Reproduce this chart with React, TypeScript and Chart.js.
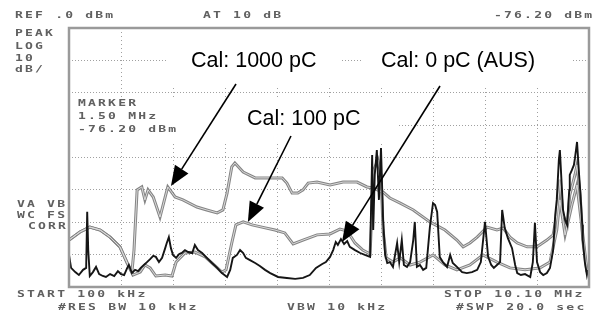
import React, { useEffect, useRef } from "react";
import { Chart, registerables } from "chart.js";
Chart.register(...registerables);

// Frequency (MHz) vs level (dBm)
const trace0pC: [number, number][] = [
  [0.10,-70.1],[0.14,-74.1],[0.22,-75.4],[0.29,-76.3],[0.37,-74.7],[0.43,-74.1],[0.45,-56.8],[0.47,-68.6],
  [0.50,-76.6],[0.56,-75.4],[0.62,-73.8],[0.68,-76.0],[0.75,-76.6],[0.81,-76.9],[0.89,-76.0],[0.97,-76.6],
  [1.04,-75.1],[1.10,-76.0],[1.16,-76.3],[1.22,-74.1],[1.25,-73.2],[1.31,-75.7],[1.37,-74.7],[1.43,-75.1],
  [1.48,-74.1],[1.54,-73.2],[1.60,-72.3],[1.66,-71.4],[1.72,-70.4],[1.77,-70.7],[1.83,-72.3],[1.89,-71.0],
  [1.95,-68.0],[1.98,-66.4],[2.02,-64.6],[2.06,-68.0],[2.10,-70.1],[2.16,-71.0],[2.22,-69.8],[2.27,-69.5],
  [2.33,-68.6],[2.39,-69.2],[2.47,-69.5],[2.52,-67.0],[2.58,-68.6],[2.66,-69.5],[2.75,-71.0],[2.85,-72.6],
  [2.95,-74.1],[3.04,-75.7],[3.14,-76.9],[3.20,-74.7],[3.25,-71.0],[3.33,-70.1],[3.39,-68.6],[3.45,-69.5],
  [3.50,-71.0],[3.58,-71.7],[3.68,-72.6],[3.77,-73.5],[3.87,-74.7],[3.97,-75.7],[4.12,-76.9],[4.29,-77.2],
  [4.45,-77.5],[4.60,-77.2],[4.73,-76.3],[4.85,-74.1],[4.97,-72.9],[5.04,-72.3],[5.12,-70.7],[5.18,-68.6],
  [5.23,-66.1],[5.27,-67.0],[5.33,-65.2],[5.39,-66.7],[5.45,-65.8],[5.50,-67.6],[5.60,-68.6],[5.70,-69.5],
  [5.79,-70.1],[5.89,-70.7],[5.93,-39.2],[5.95,-62.4],[5.98,-45.4],[6.02,-37.7],[6.06,-53.1],[6.10,-37.1],
  [6.14,-59.3],[6.18,-70.1],[6.22,-72.6],[6.27,-72.3],[6.33,-73.8],[6.41,-66.4],[6.45,-72.3],[6.50,-65.5],
  [6.54,-73.2],[6.60,-73.8],[6.66,-72.3],[6.72,-65.5],[6.75,-59.9],[6.79,-73.8],[6.85,-73.2],[6.91,-74.7],
  [6.97,-74.1],[7.04,-61.5],[7.10,-54.1],[7.14,-54.7],[7.18,-56.8],[7.23,-70.7],[7.29,-72.3],[7.37,-73.8],
  [7.43,-70.1],[7.48,-72.6],[7.56,-73.8],[7.66,-75.4],[7.75,-75.7],[7.85,-75.4],[7.95,-74.7],[8.02,-72.3],
  [8.10,-59.9],[8.16,-70.7],[8.22,-73.2],[8.27,-74.1],[8.33,-73.2],[8.39,-72.3],[8.43,-56.2],[8.48,-61.8],
  [8.54,-64.9],[8.62,-68.0],[8.68,-73.2],[8.72,-75.7],[8.79,-76.3],[8.87,-76.0],[8.97,-76.9],[9.02,-72.3],
  [9.06,-60.2],[9.10,-72.3],[9.16,-75.4],[9.22,-76.3],[9.29,-75.7],[9.35,-74.1],[9.41,-68.6],[9.45,-57.8],
  [9.48,-53.1],[9.52,-40.8],[9.54,-37.7],[9.58,-50.0],[9.60,-56.2],[9.64,-59.3],[9.68,-60.8],[9.72,-50.0],
  [9.73,-45.4],[9.77,-43.9],[9.81,-42.3],[9.83,-40.2],[9.87,-35.2],[9.91,-45.4],[9.93,-50.0],[9.97,-60.8],
  [9.98,-65.5],[10.02,-72.3],[10.06,-76.3],[10.08,-74.7],
];

const trace100pC: [number, number][] = [
  [0.10,-65.5],[0.31,-63.0],[0.50,-61.5],[0.70,-62.4],[0.89,-64.6],[1.08,-67.6],[1.22,-72.6],[1.33,-76.3],
  [1.47,-75.4],[1.56,-73.2],[1.66,-74.1],[1.77,-76.6],[1.95,-76.3],[2.08,-76.6],[2.16,-72.3],[2.33,-69.5],
  [2.52,-69.2],[2.72,-70.7],[2.91,-73.5],[3.04,-75.4],[3.12,-74.7],[3.23,-66.4],[3.31,-60.8],[3.45,-59.9],
  [3.62,-60.8],[3.81,-61.5],[4.06,-62.4],[4.25,-63.3],[4.41,-66.7],[4.60,-65.5],[4.87,-63.9],[5.12,-63.6],
  [5.31,-62.1],[5.45,-62.7],[5.60,-66.4],[5.75,-68.6],[5.89,-69.8],[5.96,-43.9],[6.04,-40.8],[6.10,-45.4],
  [6.14,-62.4],[6.20,-71.0],[6.33,-72.3],[6.47,-71.0],[6.66,-73.2],[6.85,-72.3],[7.10,-70.1],[7.33,-73.2],
  [7.56,-74.7],[7.81,-73.2],[8.06,-70.1],[8.33,-72.3],[8.58,-74.1],[8.87,-74.7],[9.16,-74.1],[9.35,-72.3],
  [9.48,-62.4],[9.54,-53.1],[9.64,-63.9],[9.77,-54.7],[9.87,-48.5],[9.97,-62.4],[10.06,-74.7],
];

const trace1000pC: [number, number][] = [
  [0.10,-65.5],[0.31,-63.0],[0.50,-61.5],[0.70,-62.4],[0.89,-64.6],[1.08,-67.6],[1.22,-72.6],[1.31,-75.4],
  [1.35,-68.6],[1.41,-50.0],[1.50,-49.1],[1.56,-53.1],[1.62,-50.0],[1.72,-52.2],[1.85,-58.4],[1.95,-52.2],
  [2.00,-49.1],[2.14,-52.2],[2.29,-53.1],[2.56,-55.3],[2.75,-56.2],[2.95,-57.1],[3.06,-56.2],[3.14,-51.0],
  [3.23,-42.9],[3.29,-41.7],[3.45,-44.5],[3.68,-46.3],[3.97,-46.3],[4.20,-46.3],[4.29,-47.9],[4.39,-51.0],
  [4.50,-51.0],[4.60,-50.0],[4.70,-47.9],[4.87,-47.6],[5.12,-48.5],[5.37,-47.6],[5.64,-47.6],[5.83,-49.1],
  [5.93,-49.4],[6.14,-50.7],[6.27,-52.5],[6.47,-54.1],[6.72,-56.2],[7.04,-59.9],[7.33,-62.4],[7.56,-65.5],
  [7.68,-67.6],[7.81,-66.4],[7.95,-64.6],[8.14,-61.5],[8.33,-62.4],[8.45,-61.8],[8.58,-64.6],[8.72,-66.4],
  [8.91,-67.6],[9.10,-67.6],[9.29,-65.5],[9.41,-63.9],[9.48,-57.8],[9.54,-46.9],[9.60,-57.8],[9.68,-60.8],
  [9.73,-51.6],[9.83,-45.4],[9.87,-42.3],[9.93,-51.6],[9.98,-65.5],[10.06,-75.4],
];

const freqGridMHz = [0.1, 1.1, 2.1, 3.1, 4.1, 5.1, 6.1, 7.1, 8.1, 9.1, 10.1];
const levelGridDbm = [0, -10, -20, -30, -40, -50, -60, -70, -80];

const calLabels = ["Cal: 1000 pC", "Cal: 0 pC (AUS)", "Cal: 100 pC"];
// arrow tips (MHz, dBm) on the traces
const arrowTipsMHz = [2.06, 3.54, 5.35];
const arrowTipsDbm = [-48.8, -59.9, -66.1];

const headerTexts = ["REF .0 dBm", "AT 10 dB", "-76.20 dBm"];
const modeTexts = ["PEAK", "LOG", "10", "dB/"];
const markerTexts = ["MARKER", "1.50 MHz", "-76.20 dBm"];
const corrTexts = ["VA VB", "WC FS", "CORR"];
const footerTexts = ["START 100 kHz", "#RES BW 10 kHz", "VBW 10 kHz", "STOP 10.10 MHz", "#SWP 20.0 sec"];

function monoText(ctx: CanvasRenderingContext2D, s: string, x: number, y: number) {
  ctx.save();
  ctx.translate(x, y);
  ctx.scale(1.45, 1.05);
  ctx.font = 'bold 9px "DejaVu Sans Mono"';
  (ctx as any).letterSpacing = "1.5px";
  ctx.textBaseline = "middle";
  ctx.textAlign = "left";
  ctx.fillStyle = "#606060";
  ctx.fillText(s, 0, 0);
  ctx.restore();
}

function arrow(ctx: CanvasRenderingContext2D, x0: number, y0: number, x1: number, y1: number) {
  const ang = Math.atan2(y1 - y0, x1 - x0);
  const L = 20, W = 8;
  const bx = x1 - L * Math.cos(ang), by = y1 - L * Math.sin(ang);
  ctx.save();
  ctx.strokeStyle = "#000";
  ctx.fillStyle = "#000";
  ctx.lineWidth = 1.6;
  ctx.beginPath();
  ctx.moveTo(x0, y0);
  ctx.lineTo(bx, by);
  ctx.stroke();
  ctx.beginPath();
  ctx.moveTo(x1, y1);
  ctx.lineTo(bx + W * Math.sin(ang), by - W * Math.cos(ang));
  ctx.lineTo(bx - W * Math.sin(ang), by + W * Math.cos(ang));
  ctx.closePath();
  ctx.fill();
  ctx.restore();
}

const overlay = {
  id: "overlay",
  afterDraw(chart: any) {
    const ctx: CanvasRenderingContext2D = chart.ctx;
    const { left, top, right, bottom } = chart.chartArea;
    const xs = chart.scales.x, ys = chart.scales.y;
    ctx.save();
    // frame
    ctx.strokeStyle = "#9a9a9a";
    ctx.lineWidth = 2.5;
    ctx.strokeRect(left, top, right - left, bottom - top);

    // opaque text boxes
    ctx.fillStyle = "#ffffff";
    ctx.fillRect(168, 32, 173, 56);
    ctx.fillRect(363, 32, 209, 56);
    ctx.fillRect(72, 97, 128, 46);
    ctx.fillRect(200, 97, 198, 46);

    // callout labels
    ctx.fillStyle = "#000";
    ctx.font = '21.5px "Liberation Sans", Arial, sans-serif';
    ctx.textBaseline = "alphabetic";
    ctx.textAlign = "left";
    ctx.fillText(calLabels[0], 191, 67);
    ctx.fillText(calLabels[1], 381, 67);
    ctx.fillText(calLabels[2], 247, 125);

    const starts = [[236, 84], [291, 136], [440, 86]];
    for (let i = 0; i < 3; i++) {
      arrow(ctx, starts[i][0], starts[i][1], xs.getPixelForValue(arrowTipsMHz[i]), ys.getPixelForValue(arrowTipsDbm[i]));
    }

    // analyzer annotations
    monoText(ctx, headerTexts[0], 15, 16);
    monoText(ctx, headerTexts[1], 203, 16);
    monoText(ctx, headerTexts[2], 494, 16);
    const modeY = [34, 46.5, 58.5, 70];
    modeTexts.forEach((t, i) => monoText(ctx, t, 15, modeY[i]));
    const mkY = [104, 117, 130];
    markerTexts.forEach((t, i) => monoText(ctx, t, 78, mkY[i]));
    monoText(ctx, corrTexts[0], 17, 205);
    monoText(ctx, corrTexts[1], 17, 216);
    monoText(ctx, corrTexts[2], 28, 227);
    monoText(ctx, footerTexts[0], 17, 295);
    monoText(ctx, footerTexts[1], 58, 308);
    monoText(ctx, footerTexts[2], 287, 308);
    monoText(ctx, footerTexts[3], 444, 295);
    monoText(ctx, footerTexts[4], 456, 308);
    ctx.restore();
  },
};

const toXY = (t: [number, number][]) => t.map(([x, y]) => ({ x, y }));

export default function App() {
  const ref = useRef<HTMLCanvasElement>(null);
  useEffect(() => {
    if (!ref.current) return;
    const grayOuter = "#858585";
    const grayInner = "#dadada";
    const chart = new Chart(ref.current, {
      type: "line",
      data: {
        datasets: [
          { data: toXY(trace0pC), borderColor: "#151515", borderWidth: 1.9, pointRadius: 0, order: 0 },
          { data: toXY(trace100pC), borderColor: grayInner, borderWidth: 1, pointRadius: 0, order: 1 },
          { data: toXY(trace1000pC), borderColor: grayInner, borderWidth: 1, pointRadius: 0, order: 1 },
          { data: toXY(trace100pC), borderColor: grayOuter, borderWidth: 3, pointRadius: 0, order: 2 },
          { data: toXY(trace1000pC), borderColor: grayOuter, borderWidth: 3, pointRadius: 0, order: 2 },
        ] as any,
      },
      options: {
        animation: false,
        responsive: false,
        events: [],
        layout: { padding: { left: 69, top: 28, right: 7, bottom: 28 } },
        plugins: { legend: { display: false }, tooltip: { enabled: false } },
        scales: {
          x: {
            type: "linear",
            min: 0.1,
            max: 10.1,
            afterBuildTicks: (s: any) => { s.ticks = freqGridMHz.map((v) => ({ value: v })); },
            ticks: { display: false },
            grid: { color: "#a0a0a0", lineWidth: 1, drawTicks: false },
            border: { display: false, dash: [1, 3] },
          },
          y: {
            type: "linear",
            min: -80,
            max: 0,
            afterBuildTicks: (s: any) => { s.ticks = levelGridDbm.map((v) => ({ value: v })); },
            ticks: { display: false },
            grid: { color: "#a0a0a0", lineWidth: 1, drawTicks: false },
            border: { display: false, dash: [1, 2] },
          },
        },
      },
      plugins: [overlay],
    });
    return () => chart.destroy();
  }, []);
  return (
    <div style={{ position: "fixed", left: 0, top: 0, width: 596, height: 315, background: "#fff" }}>
      <canvas ref={ref} width={596} height={315} style={{ display: "block" }} />
    </div>
  );
}
